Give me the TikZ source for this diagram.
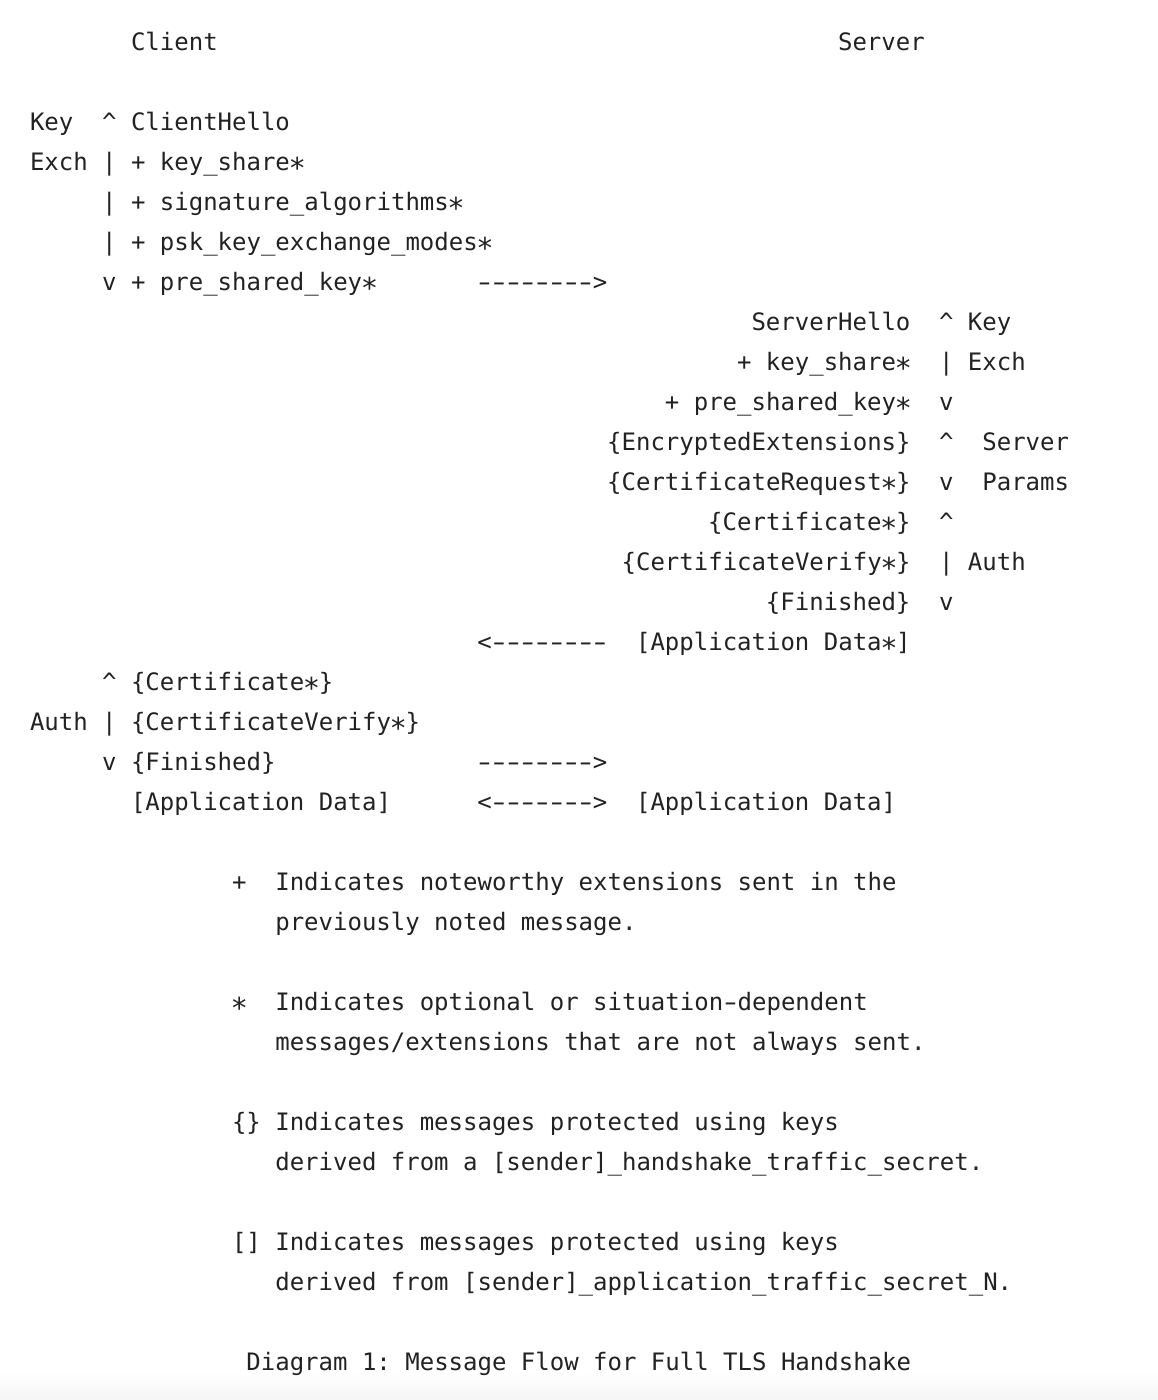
\documentclass[tikz,border=0pt]{standalone}
\usepackage{fontspec}
\usepackage{graphicx}
\setmonofont{DejaVu Sans Mono}
\definecolor{ink}{HTML}{222222}
\newcommand\seg[4]{\node[txt] (#1) at ({30+#2*14.43},{50.5+40*#3}) {#4};}
\newcommand\astr{\makebox[0.602em][c]{\raisebox{-0.34em}{\scalebox{1.2}{*}}}}
\newcommand\dsh{\makebox[0.602em][c]{\scalebox{1.55}[1]{-}}}
\newcommand\dashes{\dsh\dsh\dsh\dsh\dsh\dsh\dsh}
\begin{document}
\begin{tikzpicture}[x=1pt,y=-1pt,
  txt/.style={anchor=base west, inner sep=0pt, outer sep=0pt, text=ink,
    font=\ttfamily\fontsize{24}{24}\selectfont}]
\useasboundingbox (0,0) rectangle (1158,1400);
\fill[white] (0,0) rectangle (1158,1400);
\shade[top color=white, bottom color=black!4] (0,1372) rectangle (1158,1400);
% header
\seg{client}{7}{0}{Client}
\seg{server}{56}{0}{Server}
% client hello
\seg{key1}{0}{2}{Key}
\seg{up1}{5}{2}{\textasciicircum}
\seg{ch}{7}{2}{ClientHello}
\seg{exch1}{0}{3}{Exch}
\seg{bar1a}{5}{3}{|}
\seg{ks1}{7}{3}{+ key\_share\astr}
\seg{bar1b}{5}{4}{|}
\seg{sa}{7}{4}{+ signature\_algorithms\astr}
\seg{bar1c}{5}{5}{|}
\seg{pkem}{7}{5}{+ psk\_key\_exchange\_modes\astr}
\seg{dn1}{5}{6}{v}
\seg{psk1}{7}{6}{+ pre\_shared\_key\astr}
\seg{arr1}{31}{6}{\dashes\dsh>}
% server
\seg{sh}{50}{7}{ServerHello}
\seg{up2}{63}{7}{\textasciicircum}
\seg{key2}{65}{7}{Key}
\seg{ks2}{49}{8}{+ key\_share\astr}
\seg{bar2}{63}{8}{|}
\seg{exch2}{65}{8}{Exch}
\seg{psk2}{44}{9}{+ pre\_shared\_key\astr}
\seg{dn2}{63}{9}{v}
\seg{ee}{40}{10}{\{EncryptedExtensions\}}
\seg{up3}{63}{10}{\textasciicircum}
\seg{srv}{66}{10}{Server}
\seg{cr}{40}{11}{\{CertificateRequest\astr\}}
\seg{dn3}{63}{11}{v}
\seg{params}{66}{11}{Params}
\seg{cert2}{47}{12}{\{Certificate\astr\}}
\seg{up4}{63}{12}{\textasciicircum}
\seg{cv2}{41}{13}{\{CertificateVerify\astr\}}
\seg{bar4}{63}{13}{|}
\seg{auth2}{65}{13}{Auth}
\seg{fin2}{51}{14}{\{Finished\}}
\seg{dn4}{63}{14}{v}
\seg{arr2}{31}{15}{<\dashes\dsh}
\seg{ad2}{42}{15}{[Application Data\astr]}
% client auth
\seg{up5}{5}{16}{\textasciicircum}
\seg{cert1}{7}{16}{\{Certificate\astr\}}
\seg{auth1}{0}{17}{Auth}
\seg{bar5}{5}{17}{|}
\seg{cv1}{7}{17}{\{CertificateVerify\astr\}}
\seg{dn5}{5}{18}{v}
\seg{fin1}{7}{18}{\{Finished\}}
\seg{arr3}{31}{18}{\dashes\dsh>}
\seg{ad1}{7}{19}{[Application Data]}
\seg{arr4}{31}{19}{<\dashes>}
\seg{ad3}{42}{19}{[Application Data]}
% legend
\seg{lp}{14}{21}{+}
\seg{lpa}{17}{21}{Indicates noteworthy extensions sent in the}
\seg{lpb}{17}{22}{previously noted message.}
\seg{ls}{14}{24}{\astr}
\seg{lsa}{17}{24}{Indicates optional or situation\dsh dependent}
\seg{lsb}{17}{25}{messages/extensions that are not always sent.}
\seg{lb}{14}{27}{\{\}}
\seg{lba}{17}{27}{Indicates messages protected using keys}
\seg{lbb}{17}{28}{derived from a [sender]\_handshake\_traffic\_secret.}
\seg{lk}{14}{30}{[]}
\seg{lka}{17}{30}{Indicates messages protected using keys}
\seg{lkb}{17}{31}{derived from [sender]\_application\_traffic\_secret\_N.}
\seg{caption}{15}{33}{Diagram 1: Message Flow for Full TLS Handshake}
\end{tikzpicture}
\end{document}
